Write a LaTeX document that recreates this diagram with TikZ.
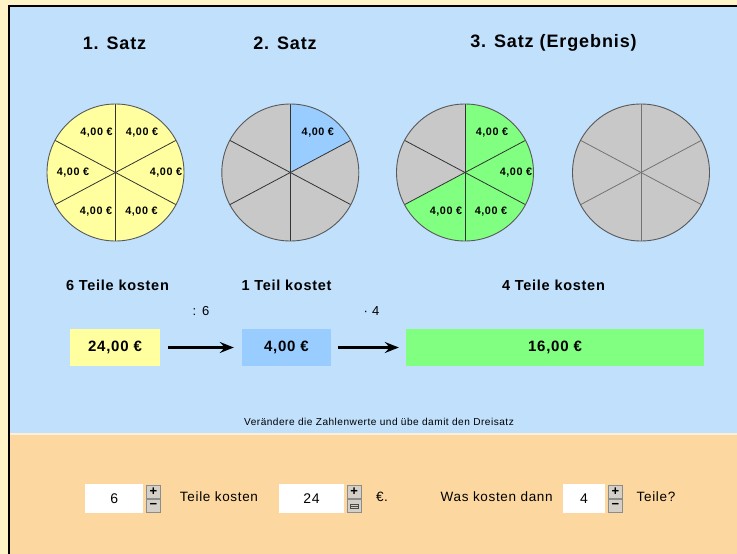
\documentclass[tikz,border=0pt]{standalone}
\usepackage{fontspec}
\setmainfont{Liberation Sans}[LetterSpace=5]
\usetikzlibrary{arrows.meta,calc}
\definecolor{cream}{RGB}{255,244,200}
\definecolor{bgblue}{RGB}{192,224,252}
\definecolor{bgorange}{RGB}{252,216,160}
\definecolor{pieyellow}{RGB}{255,255,160}
\definecolor{pieblue}{RGB}{153,204,255}
\definecolor{piegreen}{RGB}{128,255,128}
\definecolor{piegray}{RGB}{200,200,200}
\definecolor{btn}{RGB}{212,208,200}
\newcommand\piesector[4]{\fill[#4] (#1) -- ++(#2:68.5) arc[start angle=#2, end angle=#3, radius=68.5] -- cycle;}
\newcommand\piebase[2]{%
  \foreach \a in {-90,-28,28,90,152,208} {\draw[#2, line width=0.8pt] (#1) -- ++(\a:68.5);}
  \draw[black!65, line width=0.9pt] (#1) circle[radius=68.5];}
\tikzset{
  title/.style={font=\bfseries\fontsize{18}{20}\selectfont, inner sep=0pt},
  head/.style={font=\bfseries\fontsize{14.5}{16}\selectfont, inner sep=0pt},
  lbl/.style={font=\bfseries\fontsize{10.8}{12}\selectfont, inner sep=0pt},
  valbox/.style={minimum height=37pt, inner sep=0pt, font=\bfseries\fontsize{15}{17}\selectfont},
  op/.style={font=\fontsize{13}{15}\selectfont, inner sep=0pt},
  ctl/.style={font=\fontsize{13.5}{15}\selectfont, inner sep=0pt},
  field/.style={fill=white, minimum height=28.5pt, inner sep=0pt, font=\fontsize{14}{16}\selectfont},
  btnbox/.style={fill=btn, draw=black!45, line width=0.6pt, minimum width=14pt, minimum height=13pt, inner sep=0pt, font=\bfseries\fontsize{13}{13}\selectfont},
  arr/.style={line width=2.2pt, -{Stealth[length=14pt,width=11pt,inset=5pt]}},
}
\begin{document}
\begin{tikzpicture}[x=1pt,y=-1pt]
\useasboundingbox (0,0) rectangle (737,554);
% backgrounds
\fill[cream] (0,0) rectangle (737,554);
\fill[bgblue] (9.5,6.5) rectangle (737,433);
\fill[white!60!bgorange] (9.5,433) rectangle (737,434.5);
\fill[bgorange] (9.5,434.5) rectangle (737,554);
\draw[black, line width=1.5pt] (9.2,554) -- (9.2,6.2) -- (737,6.2);
% titles
\node[title] (t1) at (114.5,43) {1. Satz};
\node[title] (t2) at (285,43) {2. Satz};
\node[title] (t3) at (553.5,43) {3. Satz (Ergebnis)};
% pie centres
\coordinate (c1) at (115.5,172.5);
\coordinate (c2) at (290.3,172.5);
\coordinate (c3) at (465,172.5);
\coordinate (c4) at (641,172.5);
% pie 1
\piesector{c1}{0}{360}{pieyellow}
\piebase{c1}{black!80}
% pie 2
\piesector{c2}{0}{360}{piegray}
\piesector{c2}{-90}{-28}{pieblue}
\piebase{c2}{black!80}
% pie 3
\piesector{c3}{0}{360}{piegray}
\piesector{c3}{-90}{152}{piegreen}
\piebase{c3}{black!80}
% pie 4
\piesector{c4}{0}{360}{piegray}
\piebase{c4}{black!55}
% sector labels
\foreach \dx/\dy [count=\i] in {26.5/-40, 50.5/0, 26/39, -19.5/39, -42.5/0, -19/-40}
  {\node[lbl] (p1l\i) at ($(c1)+(\dx,\dy)$) {4,00 €};}
\node[lbl] (p2l1) at ($(c2)+(27.5,-40)$) {4,00 €};
\foreach \dx/\dy [count=\i] in {27/-40, 51/0, 26/39, -19/39}
  {\node[lbl] (p3l\i) at ($(c3)+(\dx,\dy)$) {4,00 €};}
% headings
\node[head] (h1) at (117.5,285.5) {6 Teile kosten};
\node[head] (h2) at (286.5,285.5) {1 Teil kostet};
\node[head] (h3) at (553.5,285.5) {4 Teile kosten};
\node[op] (o1) at (201,311.5) {: 6};
\node[op] (o2) at (371.5,311.5) {· 4};
% value boxes
\node[valbox, fill=pieyellow, minimum width=90pt] (b1) at (115,347.5) {24,00 €};
\node[valbox, fill=pieblue, minimum width=89pt] (b2) at (286.5,347.5) {4,00 €};
\node[valbox, fill=piegreen, minimum width=298pt] (b3) at (555,347.5) {16,00 €};
\draw[arr, shorten <=8pt, shorten >=8pt] (b1) -- (b2);
\draw[arr, shorten <=7pt, shorten >=7pt] (b2) -- (b3);
% hint
\node[font=\fontsize{10.1}{12}\selectfont, inner sep=0pt] (hint) at (379,421.5) {Verändere die Zahlenwerte und übe damit den Dreisatz};
% controls
\node[field, minimum width=58pt] (f1) at (114.2,498.3) {6};
\node[btnbox] (u1) at (153.4,491.7) {+};
\node[btnbox] (d1) at (153.4,506) {−};
\node[ctl] (l1) at (219,496.5) {Teile kosten};
\node[field, minimum width=65pt] (f2) at (311.5,498.3) {24};
\node[btnbox] (u2) at (354.2,491.7) {+};
\node[btnbox] (d2) at (354.2,506) {};
\draw[black!70, line width=0.6pt] ($(d2)+(-4,-1.5)$) rectangle ($(d2)+(4,2.5)$);
\draw[black!70, line width=0.6pt] ($(d2)+(-4,0.5)$) -- ($(d2)+(4,0.5)$);
\node[ctl] (l2) at (382,496.5) {€.};
\node[ctl] (l3) at (496.7,496.5) {Was kosten dann};
\node[field, minimum width=42.5pt] (f3) at (583.9,498.3) {4};
\node[btnbox] (u3) at (615.3,491.7) {+};
\node[btnbox] (d3) at (615.3,506) {−};
\node[ctl] (l4) at (656,496.5) {Teile?};
\end{tikzpicture}
\end{document}
